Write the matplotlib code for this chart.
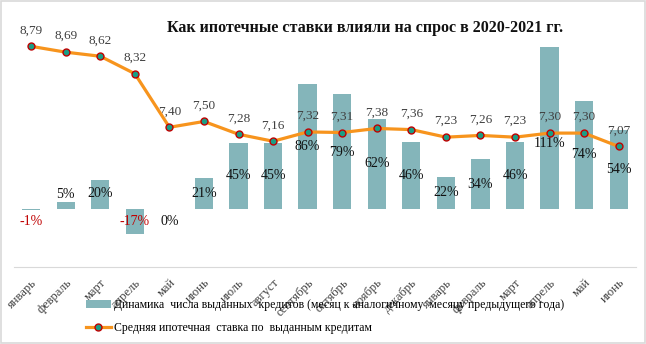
import numpy as np
import matplotlib.pyplot as plt
from matplotlib.patches import Rectangle, Patch
from matplotlib.lines import Line2D

plt.rcParams['font.family'] = ['Liberation Serif', 'DejaVu Serif']

months = ["январь", "февраль", "март", "апрель", "май", "июнь", "июль", "август",
          "сентябрь", "октябрь", "ноябрь", "декабрь", "январь", "февраль", "март",
          "апрель", "май", "июнь"]
loans_growth = [-1, 5, 20, -17, 0, 21, 45, 45, 86, 79, 62, 46, 22, 34, 46, 111, 74, 54]
mortgage_rate = [8.79, 8.69, 8.62, 8.32, 7.40, 7.50, 7.28, 7.16, 7.32, 7.31, 7.38,
                 7.36, 7.23, 7.26, 7.23, 7.30, 7.30, 7.07]

# where the percent labels sit (in % units of the bar axis), kept clear of the line
pct_label_y = [-9, 9.6, 10.3, -8.7, -9, 10.3, 22.7, 22.7, 43, 38.5, 31, 22.7,
               11, 17, 22.7, 45, 37, 27]

bar_color = "#84B5BA"
line_color = "#F7941D"
marker_face = "#1A9E86"
marker_edge = "#C00000"

fig = plt.figure(figsize=(6.46, 3.44), dpi=100)
ax = fig.add_axes([0.0215, 0.2238, 0.963, 0.677])
x = np.arange(len(months))

ax.bar(x, loans_growth, width=0.53, color=bar_color, zorder=2)
ax.set_ylim(-40, 120)
ax.set_xlim(-0.5, len(months) - 0.5)

for xi, v, ly in zip(x, loans_growth, pct_label_y):
    ax.text(xi, ly, f"{v}%", ha="center", va="center", fontsize=10,
            color="#C00000" if v < 0 else "#111111", zorder=3)

for s in ["top", "right", "left"]:
    ax.spines[s].set_visible(False)
ax.spines["bottom"].set_position(("data", -40))
ax.spines["bottom"].set_color("#d9d9d9")
ax.set_yticks([])
ax.set_xticks(x)
ax.set_xticklabels(months, rotation=45, ha="right", rotation_mode="anchor",
                   fontsize=9, color="#404040")
ax.tick_params(axis="x", length=0, pad=7)

ax2 = ax.twinx()
ax2.plot(x, mortgage_rate, color=line_color, lw=2.3, marker="o", ms=5,
         mfc=marker_face, mec=marker_edge, mew=1, zorder=4)
ax2.set_ylim(5, 9)
ax2.set_yticks([])
for s in ax2.spines.values():
    s.set_visible(False)
for xi, v in zip(x, mortgage_rate):
    ax2.annotate(f"{v:.2f}".replace(".", ","), (xi, v), xytext=(0, 11.5),
                 textcoords="offset points", ha="center", va="center",
                 fontsize=9.5, color="#404040")

fig.text(0.565, 0.918, "Как ипотечные ставки влияли на спрос в 2020-2021 гг.",
         ha="center", va="center", fontsize=11.5, fontweight="bold", color="#111111")

handles = [
    Patch(facecolor=bar_color, edgecolor="none"),
    Line2D([0], [0], color=line_color, lw=2.3, marker="o", ms=5,
           mfc=marker_face, mec=marker_edge, mew=1),
]
labels = [
    "Динамика  числа выданных  кредитов (месяц к аналогичному  месяцу предыдущего года)",
    "Средняя ипотечная  ставка по  выданным кредитам",
]
fig.legend(handles, labels, loc="upper left", bbox_to_anchor=(0.133, 0.13),
           frameon=False, fontsize=8.5, handlelength=2.1, handletextpad=0.25,
           labelspacing=0.95, borderpad=0, borderaxespad=0)

fig.patches.append(Rectangle((0.001, 0.002), 0.997, 0.995, transform=fig.transFigure,
                             fill=False, edgecolor="#d9d9d9", lw=1.2))

fig.savefig("out.png", dpi=100)
